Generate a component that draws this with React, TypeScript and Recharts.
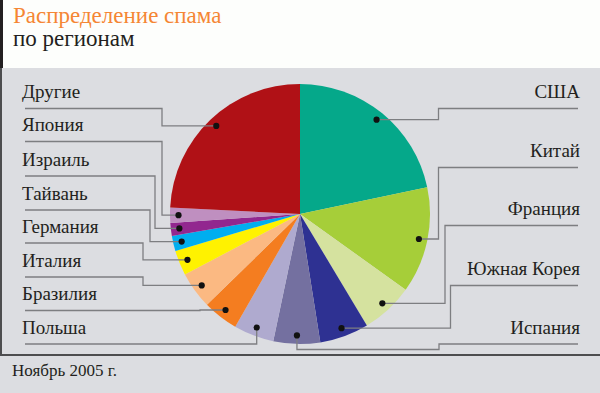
import React from "react";
import { PieChart, Pie, Cell } from "recharts";

const regions = [
  "США",
  "Китай",
  "Франция",
  "Южная Корея",
  "Испания",
  "Польша",
  "Бразилия",
  "Италия",
  "Германия",
  "Тайвань",
  "Израиль",
  "Япония",
  "Другие",
];
const shares = [21.7, 13.2, 6.5, 6.1, 5.8, 5.0, 4.4, 4.6, 3.1, 1.9, 1.6, 1.9, 24.2];
const colors = [
  "#05a88a",
  "#a6ce39",
  "#d5e29f",
  "#2e3192",
  "#7470a0",
  "#afaacf",
  "#f47d20",
  "#fbb982",
  "#fff200",
  "#00aeef",
  "#92278f",
  "#bf8fc0",
  "#b01116",
];

const titleLine1 = "Распределение спама";
const titleLine2 = "по регионам";
const footnote = "Ноябрь 2005 г.";

const data = regions.map((name, i) => ({ name, value: shares[i] }));

type Layout = { side: "L" | "R"; lineY: number; bendX: number | null; detourY?: number };
const layout: Layout[] = [
  { side: "R", lineY: 108.5, bendX: 438.5 },
  { side: "R", lineY: 167.5, bendX: 438.5 },
  { side: "R", lineY: 225.5, bendX: 445 },
  { side: "R", lineY: 285.5, bendX: 450.5 },
  { side: "R", lineY: 344, bendX: 439, detourY: 349.5 },
  { side: "L", lineY: 344, bendX: null },
  { side: "L", lineY: 310.5, bendX: 200 },
  { side: "L", lineY: 277, bendX: 143 },
  { side: "L", lineY: 243, bendX: 143 },
  { side: "L", lineY: 210, bendX: 150 },
  { side: "L", lineY: 176, bendX: 155 },
  { side: "L", lineY: 141.5, bendX: 162 },
  { side: "L", lineY: 108.5, bendX: 162 },
];

const FONT = "Liberation Serif";
const RAD = Math.PI / 180;

const renderLabel = (props: any) => {
  const { cx, cy, midAngle, outerRadius, index } = props;
  const r = outerRadius - 8.5;
  const dx = cx + r * Math.cos(-midAngle * RAD);
  const dy = cy + r * Math.sin(-midAngle * RAD);
  const L = layout[index];
  const startX = L.side === "L" ? 25 : 578;
  const bx = L.bendX === null ? dx : L.bendX;
  let d: string;
  if (L.detourY !== undefined) {
    d = `M${startX},${L.lineY} H${bx} V${L.detourY} H${dx} V${dy}`;
  } else {
    d = `M${startX},${L.lineY} H${bx} V${dy} H${dx}`;
  }
  return (
    <g key={`lbl-${index}`}>
      <path d={d} fill="none" stroke="#7d7e81" strokeWidth={1.3} />
      <circle cx={dx} cy={dy} r={3.1} fill="#111" />
      <text
        x={L.side === "L" ? 22 : 580}
        y={L.lineY - 10.5}
        textAnchor={L.side === "L" ? "start" : "end"}
        fontFamily={FONT}
        fontSize={19}
        fill="#231f20"
      >
        {regions[index]}
      </text>
    </g>
  );
};

export default function App() {
  return (
    <div
      style={{
        position: "absolute",
        left: 0,
        top: 0,
        width: 600,
        height: 393,
        background: "#dcdde1",
        overflow: "hidden",
      }}
    >
      <div style={{ position: "absolute", left: 0, top: 0, width: 600, height: 68, background: "#fdfefc" }} />
      <div style={{ position: "absolute", left: 0, top: 0, width: 3, height: 68, background: "#231f20" }} />
      <div style={{ position: "absolute", left: 0, top: 68, width: 2, height: 288, background: "#4d4d4f" }} />
      <div style={{ position: "absolute", left: 0, top: 354, width: 600, height: 2, background: "#4d4d4f" }} />
      <div
        style={{
          position: "absolute",
          left: 13,
          top: 4,
          fontFamily: FONT,
          fontSize: 23,
          lineHeight: "23px",
          color: "#f58634",
          whiteSpace: "nowrap",
        }}
      >
        {titleLine1}
      </div>
      <div
        style={{
          position: "absolute",
          left: 13,
          top: 27,
          fontFamily: FONT,
          fontSize: 23,
          lineHeight: "23px",
          color: "#231f20",
          whiteSpace: "nowrap",
        }}
      >
        {titleLine2}
      </div>
      <div
        style={{
          position: "absolute",
          left: 12,
          top: 361,
          fontFamily: FONT,
          fontSize: 17,
          lineHeight: "20px",
          color: "#231f20",
          whiteSpace: "nowrap",
        }}
      >
        {footnote}
      </div>
      <div style={{ position: "absolute", left: 0, top: 0 }}>
        <PieChart width={600} height={393} margin={{ top: 0, right: 0, bottom: 0, left: 0 }}>
          <Pie
            data={data}
            dataKey="value"
            nameKey="name"
            cx={300}
            cy={214}
            outerRadius={130}
            startAngle={90}
            endAngle={-270}
            stroke="none"
            label={renderLabel}
            labelLine={false}
            isAnimationActive={false}
          >
            {data.map((_, i) => (
              <Cell key={i} fill={colors[i]} />
            ))}
          </Pie>
        </PieChart>
      </div>
    </div>
  );
}
